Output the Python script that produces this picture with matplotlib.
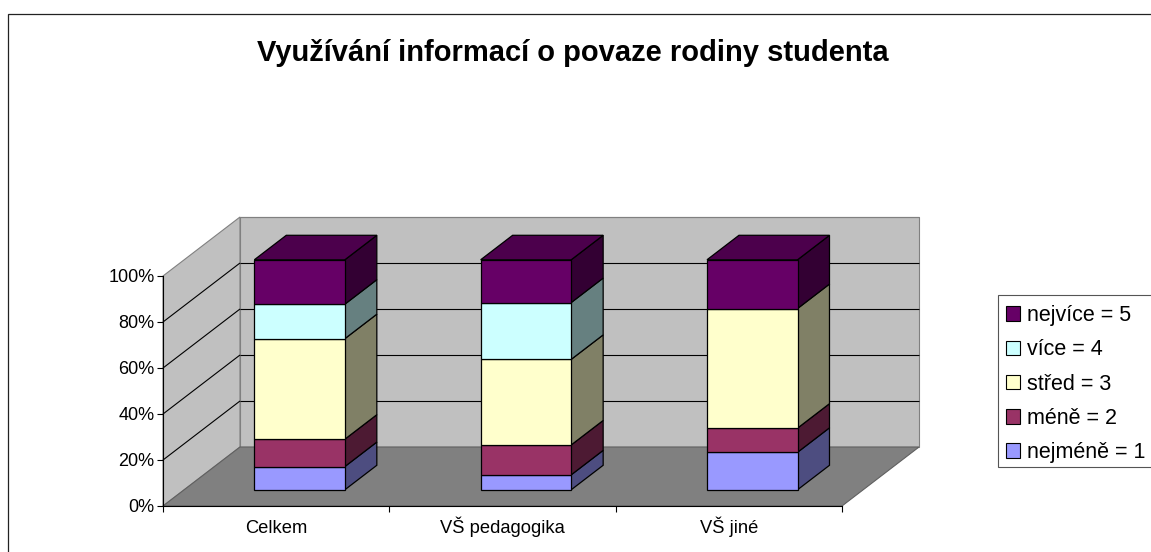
#! python3

import matplotlib
matplotlib.use('Agg')
import matplotlib.pyplot as plt
from matplotlib.patches import Patch, Rectangle

plt.rcParams['font.family'] = ['Liberation Sans', 'DejaVu Sans']

# data, percent of each group
categories = ['Celkem', 'VŠ pedagogika', 'VŠ jiné']
series_names = ['nejméně = 1', 'méně = 2', 'střed = 3', 'více = 4', 'nejvíce = 5']
nejmene = [10.1, 6.5, 16.3]
mene = [11.9, 13.0, 10.5]
stred = [43.7, 37.2, 52.0]
vice = [15.0, 24.7, 0.0]
nejvice = [19.3, 18.6, 21.2]
yticks = [0, 20, 40, 60, 80, 100]

front_cols = ['#9999FF', '#993366', '#FFFFCC', '#CCFFFF', '#660066']
side_cols = ['#4D4D80', '#4D1A33', '#808066', '#668080', '#330033']
top_col = '#4C004C'

W, H = 1151, 552
# depth of the fake 3d box, in data units
DX = 77 / 679 * 3
DY = 59 / 230 * 100
BAR_W = 0.40
BAR_MID = 0.51
BAR_Z0 = 0.275
BAR_Z1 = 0.69


def P(x, y, z):
    return x + z * DX, y + z * DY


def poly(ax, pts, col, edge='none', lw=0.0, zorder=1):
    xs = [p[0] for p in pts]
    ys = [p[1] for p in pts]
    ax.fill(xs, ys, facecolor=col, edgecolor=edge, linewidth=lw, clip_on=False,
            zorder=zorder, joinstyle='miter')


def line(ax, a, b, col, lw=0.8, zorder=2):
    ax.plot([a[0], b[0]], [a[1], b[1]], color=col, lw=lw, clip_on=False,
            zorder=zorder, solid_capstyle='butt')


fig = plt.figure(figsize=(W / 100, H / 100), dpi=100)
fig.add_artist(Rectangle((8 / W, -0.1), 1.2, (552 - 14) / H + 0.1, transform=fig.transFigure,
                         facecolor='none', edgecolor='#222222', linewidth=0.9))

ax = fig.add_axes([163 / W, (H - 506) / H, 679 / W, 230 / H])
ax.patch.set_visible(False)
ax.set_xlim(0, 3)
ax.set_ylim(0, 100)

# walls and floor
grey = '#808080'
poly(ax, [P(0, 0, 0), P(0, 0, 1), P(0, 100, 1), P(0, 100, 0)], '#C0C0C0', grey, 0.8)
poly(ax, [P(0, 0, 1), P(3, 0, 1), P(3, 100, 1), P(0, 100, 1)], '#C0C0C0', grey, 0.8)
poly(ax, [P(0, 0, 0), P(3, 0, 0), P(3, 0, 1), P(0, 0, 1)], '#808080', '#606060', 0.8)

for t in yticks[1:-1]:
    line(ax, P(0, t, 0), P(0, t, 1), 'black')
    line(ax, P(0, t, 1), P(3, t, 1), 'black')
line(ax, P(0, 100, 1), P(3, 100, 1), grey)

# stacked bars
values = [nejmene, mene, stred, vice, nejvice]
for i in range(len(categories)):
    x0 = i + BAR_MID - BAR_W / 2
    x1 = i + BAR_MID + BAR_W / 2
    base = 0
    for s in range(len(values)):
        v = values[s][i]
        if v == 0:
            continue
        y0, y1 = base, base + v
        poly(ax, [P(x1, y0, BAR_Z0), P(x1, y0, BAR_Z1), P(x1, y1, BAR_Z1), P(x1, y1, BAR_Z0)],
             side_cols[s], 'black', 0.9, zorder=3)
        poly(ax, [P(x0, y0, BAR_Z0), P(x1, y0, BAR_Z0), P(x1, y1, BAR_Z0), P(x0, y1, BAR_Z0)],
             front_cols[s], 'black', 0.9, zorder=3)
        base = y1
    poly(ax, [P(x0, base, BAR_Z0), P(x1, base, BAR_Z0), P(x1, base, BAR_Z1), P(x0, base, BAR_Z1)],
         top_col, 'black', 0.9, zorder=3)

for name in ['top', 'right']:
    ax.spines[name].set_visible(False)
for name in ['left', 'bottom']:
    ax.spines[name].set_linewidth(0.8)
    ax.spines[name].set_zorder(4)

ax.set_yticks(yticks)
ax.set_yticklabels([str(t) + '%' for t in yticks], fontsize=13)
ax.set_xticks(range(4))
ax.set_xticklabels([])
ax.set_xticks([0.5, 1.5, 2.5], minor=True)
ax.set_xticklabels(categories, minor=True, fontsize=13.2, va='baseline')
ax.tick_params(axis='x', which='minor', length=0, pad=19.4)
ax.tick_params(axis='x', which='major', length=4, width=0.8)
ax.tick_params(axis='y', length=4, width=0.8, pad=2)

fig.text(572.5 / W, (H - 53) / H, 'Využívání informací o povaze rodiny studenta',
         fontsize=21, fontweight='bold', ha='center', va='center')

# legend frame runs off the right edge of the picture
fig.add_artist(Rectangle((998 / W, (H - 467) / H), 0.2, 172 / H, transform=fig.transFigure,
                         facecolor='white', edgecolor='#555555', linewidth=0.8))
handles = [Patch(facecolor=front_cols[s], edgecolor='black', linewidth=0.8, label=series_names[s])
           for s in range(4, -1, -1)]
fig.legend(handles=handles, loc='upper left', bbox_to_anchor=(998 / W, (H - 297) / H),
           bbox_transform=fig.transFigure, fontsize=15.5, frameon=False, borderaxespad=0,
           handlelength=0.65, handleheight=0.65, handletextpad=0.3, labelspacing=0.615,
           borderpad=0.38)

plt.savefig('out.png', dpi=100)
